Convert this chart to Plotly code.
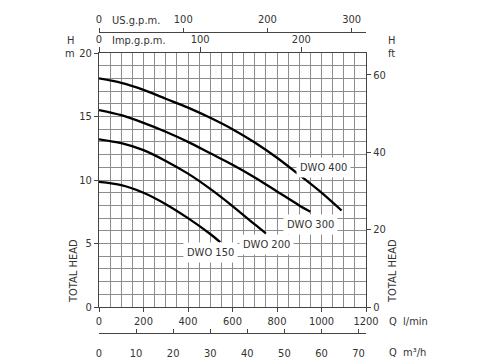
import plotly.graph_objects as go

# ---- data (flow in l/min, head in m) ----
q_400 = [0, 100, 200, 300, 400, 500, 600, 700, 800, 900, 1000, 1090]
h_400 = [18.0, 17.65, 17.1, 16.4, 15.7, 14.9, 14.0, 12.95, 11.75, 10.4, 9.0, 7.6]

q_300 = [0, 100, 200, 300, 400, 500, 600, 700, 800, 900, 950]
h_300 = [15.5, 15.1, 14.5, 13.8, 13.0, 12.1, 11.2, 10.2, 9.1, 8.0, 7.5]

q_200 = [0, 100, 200, 300, 400, 500, 600, 700, 750]
h_200 = [13.2, 12.9, 12.35, 11.5, 10.5, 9.3, 7.95, 6.5, 5.8]

q_150 = [0, 100, 200, 300, 400, 500, 545]
h_150 = [9.85, 9.6, 9.0, 8.1, 7.0, 5.75, 5.1]

series_names = ["DWO 400", "DWO 300", "DWO 200", "DWO 150"]
series_q = [q_400, q_300, q_200, q_150]
series_h = [h_400, h_300, h_200, h_150]

lmin_ticks = [0, 200, 400, 600, 800, 1000, 1200]
m_ticks = [0, 5, 10, 15, 20]
ft_ticks = [0, 20, 40, 60]
imp_ticks = [0, 100, 200]
us_ticks = [0, 100, 200, 300]
m3h_ticks = [0, 10, 20, 30, 40, 50, 60, 70]

Q_MAX = 1200
H_MAX = 20
M_TO_FT = 3.28084
IMP_GAL = 4.54609
US_GAL = 3.78541

# ---- layout geometry ----
W, H = 478, 360
ML, MR, MT, MB = 99, 112, 15, 2
IW, IH = W - ML - MR, H - MT - MB


def px(x):
    return (x - ML) / IW


def py(y):
    return (H - MB - y) / IH


FONT = "Liberation Sans Narrow, Arial Narrow, DejaVu Sans Condensed, sans-serif"
TXT = "#333333"
GRID = "#8c8c8c"
AX = "#444444"
FS = 11

fig = go.Figure()
for name, q, h in zip(series_names, series_q, series_h):
    fig.add_trace(go.Scatter(x=q, y=h, mode="lines", name=name,
                             line=dict(color="black", width=2.3, shape="spline",
                                       smoothing=0.8),
                             showlegend=False))

# dummy traces to attach secondary axes
fig.add_trace(go.Scatter(x=[0], y=[0], xaxis="x", yaxis="y2", mode="markers",
                         marker=dict(opacity=0), showlegend=False, hoverinfo="skip"))
for xa in ["x2", "x3", "x4"]:
    fig.add_trace(go.Scatter(x=[0], y=[0], xaxis=xa, yaxis="y", mode="markers",
                             marker=dict(opacity=0), showlegend=False, hoverinfo="skip"))

y_bot, y_top = py(307), py(53)

tickfont = dict(family=FONT, size=FS, color=TXT)

fig.update_layout(
    width=W, height=H,
    margin=dict(l=ML, r=MR, t=MT, b=MB, autoexpand=False),
    paper_bgcolor="white", plot_bgcolor="white",
    font=dict(family=FONT, size=FS, color=TXT),
    xaxis=dict(range=[0, Q_MAX], domain=[0, 1], tickvals=lmin_ticks,
               showgrid=True, gridcolor=GRID, gridwidth=0.8,
               minor=dict(dtick=50, showgrid=True, gridcolor=GRID, gridwidth=0.8),
               showline=True, linecolor=AX, linewidth=1, mirror=True,
               ticks="outside", ticklen=4, tickcolor=AX, tickfont=tickfont,
               zeroline=False, anchor="y", automargin=False),
    yaxis=dict(range=[0, H_MAX], domain=[y_bot, y_top], tickvals=m_ticks,
               showgrid=True, gridcolor=GRID, gridwidth=0.8,
               minor=dict(dtick=1, showgrid=True, gridcolor=GRID, gridwidth=0.8),
               showline=True, linecolor=AX, linewidth=1, mirror=True,
               ticks="outside", ticklen=4, tickcolor=AX, tickfont=tickfont,
               zeroline=False, anchor="x", automargin=False),
    yaxis2=dict(range=[0, H_MAX * M_TO_FT], overlaying="y", side="right",
                tickvals=ft_ticks, showgrid=False, zeroline=False,
                showline=False, ticks="outside", ticklen=4, tickcolor=AX,
                tickfont=tickfont, anchor="x", automargin=False),
    xaxis2=dict(range=[0, Q_MAX / IMP_GAL], overlaying="x", side="top",
                tickvals=imp_ticks, showgrid=False, zeroline=False,
                showline=False, ticks="outside", ticklen=5, tickcolor=AX,
                tickfont=tickfont, anchor="y", automargin=False),
    xaxis3=dict(range=[0, Q_MAX / US_GAL], overlaying="x", side="top",
                anchor="free", position=py(31.7),
                tickvals=us_ticks, showgrid=False, zeroline=False,
                showline=True, linecolor=AX, linewidth=1,
                ticks="outside", ticklen=4, tickcolor=AX, tickfont=tickfont,
                automargin=False),
    xaxis4=dict(range=[0, Q_MAX * 60 / 1000], overlaying="x", side="bottom",
                anchor="free", position=py(333),
                tickvals=m3h_ticks, showgrid=False, zeroline=False,
                showline=True, linecolor=AX, linewidth=1,
                ticks="inside", ticklen=4, tickcolor=AX, tickfont=tickfont,
                ticklabelstandoff=10, automargin=False),
)

ann = []


def add_text(text, x, y, xanchor="left", angle=0):
    ann.append(dict(text=text, xref="paper", yref="paper", x=px(x), y=py(y),
                    xanchor=xanchor, yanchor="middle", showarrow=False,
                    textangle=angle, font=dict(family=FONT, size=FS, color=TXT)))


add_text("US.g.p.m.", 110, 20)
add_text("Imp.g.p.m.", 110, 40)
add_text("H", 70, 40, "center")
add_text("m", 70, 54, "center")
add_text("H", 391, 40, "center")
add_text("ft", 391, 54, "center")
add_text("Q  l/min", 387, 321)
add_text("Q  m³/h", 387, 352)
add_text("TOTAL HEAD", 73, 271, "center", -90)
add_text("TOTAL HEAD", 392, 271, "center", -90)

label_pos = {"DWO 400": (1008, 11.0), "DWO 300": (951, 6.5),
             "DWO 200": (751, 4.95), "DWO 150": (500, 4.3)}
for name in series_names:
    lx, ly = label_pos[name]
    ann.append(dict(text=name, x=lx, y=ly, xref="x", yref="y",
                    showarrow=False, bgcolor="white", borderpad=3,
                    font=dict(family=FONT, size=FS, color=TXT)))

fig.update_layout(annotations=ann)
fig.write_html("out.html")
